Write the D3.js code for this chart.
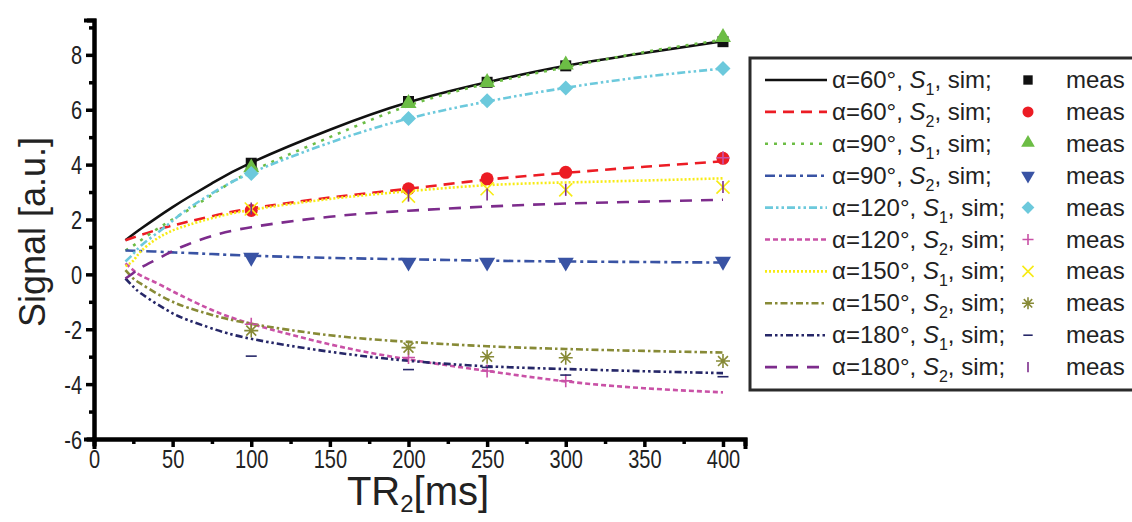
<!DOCTYPE html>
<html>
<head>
<meta charset="utf-8">
<script src="https://cdn.jsdelivr.net/npm/d3@7"></script>
<style>
  html, body { margin: 0; padding: 0; background: #fff; }
  svg { display: block; }
  .tick text { font-family: 'Liberation Sans', Arial, sans-serif; fill: #222; }
</style>
</head>
<body>
<svg id="chart" width="1132" height="522"></svg>
<script>
// Repetition time TR2 (ms) at which the simulated curves are sampled
const trSim = [20, 25, 30, 40, 50, 60, 75, 100, 150, 200, 250, 300, 350, 400];

// Simulated signal (a.u.)
const simA60S1  = [1.24, 1.46, 1.67, 2.07, 2.45, 2.81, 3.32, 4.07, 5.27, 6.27, 7.00, 7.60, 8.07, 8.50];
const simA60S2  = [1.24, 1.34, 1.44, 1.62, 1.78, 1.92, 2.12, 2.40, 2.80, 3.12, 3.45, 3.70, 3.92, 4.12];
const simA90S1  = [0.87, 1.05, 1.25, 1.65, 2.00, 2.35, 2.90, 3.75, 5.00, 6.15, 6.95, 7.55, 8.10, 8.55];
const simA90S2  = [0.87, 0.86, 0.85, 0.83, 0.80, 0.78, 0.74, 0.68, 0.60, 0.55, 0.50, 0.47, 0.45, 0.43];
const simA120S1 = [0.47, 0.75, 1.05, 1.50, 1.95, 2.40, 2.95, 3.70, 4.80, 5.68, 6.30, 6.80, 7.20, 7.50];
const simA120S2 = [0.40, 0.15, -0.05, -0.32, -0.62, -0.90, -1.30, -1.80, -2.55, -3.10, -3.52, -3.90, -4.15, -4.30];
const simA150S1 = [0.30, 0.50, 0.85, 1.30, 1.60, 1.80, 2.05, 2.35, 2.75, 3.03, 3.25, 3.35, 3.42, 3.50];
const simA150S2 = [0.15, -0.15, -0.35, -0.70, -1.00, -1.22, -1.48, -1.80, -2.22, -2.46, -2.62, -2.72, -2.79, -2.85];
const simA180S1 = [-0.15, -0.45, -0.70, -1.08, -1.42, -1.67, -1.97, -2.35, -2.82, -3.15, -3.35, -3.45, -3.53, -3.60];
const simA180S2 = [-0.15, 0.05, 0.25, 0.55, 0.85, 1.10, 1.40, 1.72, 2.10, 2.32, 2.47, 2.58, 2.65, 2.72];

// Measured points
const trMeas = [100, 200, 250, 300, 400];
const measA60S1  = [4.05, 6.30, 7.00, 7.60, 8.48];
const measA60S2  = [2.33, 3.12, 3.48, 3.72, 4.23];
const measA90S1  = [3.85, 6.20, 6.96, 7.60, 8.60];
const measA90S2  = [0.62, 0.44, 0.44, 0.44, 0.47];
const measA120S1 = [3.68, 5.68, 6.33, 6.79, 7.50];
const measA120S2 = [-1.82, -3.03, -3.52, -3.88, 4.25];
const measA150S1 = [2.38, 2.85, 3.12, 3.08, 3.18];
const measA150S2 = [-2.05, -2.67, -3.00, -3.04, -3.16];
const measA180S1 = [-2.98, -3.47, -3.39, -3.67, -3.73];
const measA180S2 = [2.40, 2.87, 2.91, 3.08, 3.18];

// Legend labels
const legendAlpha = [60, 60, 90, 90, 120, 120, 150, 150, 180, 180];
const legendS     = [1, 2, 1, 2, 1, 2, 1, 2, 1, 2];

// Axis ticks
const xMajorTicks = [0, 50, 100, 150, 200, 250, 300, 350, 400];
const xMinorTicks = [25, 75, 125, 175, 225, 275, 325, 375];
const yMajorTicks = [-6, -4, -2, 0, 2, 4, 6, 8];
const yMinorTicks = [-5, -3, -1, 1, 3, 5, 7, 9];

const simSeries  = [simA60S1, simA60S2, simA90S1, simA90S2, simA120S1, simA120S2, simA150S1, simA150S2, simA180S1, simA180S2];
const measSeries = [measA60S1, measA60S2, measA90S1, measA90S2, measA120S1, measA120S2, measA150S1, measA150S2, measA180S1, measA180S2];

// Per-series appearance
const seriesStyle = [
  { color: "#111111", dash: null,              marker: "square"   },
  { color: "#ec1c24", dash: "11,7",            marker: "circle"   },
  { color: "#6cbd45", dash: "3,6",             marker: "triangle" },
  { color: "#3953a4", dash: "10,4,3,4",        marker: "triDown"  },
  { color: "#6cc9dc", dash: "8,3,2.5,3,2.5,3", marker: "diamond"  },
  { color: "#c951a6", dash: "5,3",             marker: "plus"     },
  { color: "#f7eb14", dash: "2,2",             marker: "cross"    },
  { color: "#878a36", dash: "7,3,2.5,3",       marker: "star"     },
  { color: "#262768", dash: "7,3,2.5,3,2.5,3", marker: "hbar"     },
  { color: "#7d2c8c", dash: "12,9",            marker: "vbar"     }
];

const svg = d3.select("#chart");

const x = d3.scaleLinear().domain([0, 414]).range([94, 745]);
const y = d3.scaleLinear().domain([-6, 9.27]).range([439, 20]);

// Condensed look for the tick numbers
const narrow = 0.8;

function styleAxis(g) {
  g.select(".domain").attr("stroke", "#000").attr("stroke-width", 4).attr("stroke-linecap", "square");
  g.selectAll(".tick line").attr("stroke", "#000").attr("stroke-width", 3.5);
}

const xAxisG = svg.append("g").attr("transform", `translate(0,${y(-6)})`);
xAxisG.append("g")
  .call(d3.axisBottom(x).tickValues(xMinorTicks).tickSize(5).tickFormat(""))
  .call(styleAxis);
xAxisG.append("g")
  .call(d3.axisBottom(x).tickValues(xMajorTicks).tickSize(8).tickPadding(3).tickFormat(d => String(d)))
  .call(styleAxis)
  .call(g => g.selectAll(".tick text")
    .attr("font-size", 25)
    .attr("transform", `scale(${narrow},1)`));

const yAxisG = svg.append("g").attr("transform", `translate(${x(0)},0)`);
yAxisG.append("g")
  .call(d3.axisLeft(y).tickValues(yMinorTicks).tickSize(5).tickFormat(""))
  .call(styleAxis);
yAxisG.append("g")
  .call(d3.axisLeft(y).tickValues(yMajorTicks).tickSize(8).tickPadding(3).tickFormat(d => String(d)))
  .call(styleAxis)
  .call(g => g.selectAll(".tick text")
    .attr("font-size", 25)
    .attr("dy", "0.36em")
    .attr("x", -12 / narrow)
    .attr("transform", `scale(${narrow},1)`));

// Axis titles
svg.append("text")
  .attr("transform", `translate(45,232) rotate(-90)`)
  .attr("text-anchor", "middle")
  .attr("font-family", "'Liberation Sans', Arial, sans-serif")
  .attr("font-size", 36)
  .attr("fill", "#222")
  .text("Signal [a.u.]");

const xTitle = svg.append("text")
  .attr("x", 418).attr("y", 505)
  .attr("text-anchor", "middle")
  .attr("font-family", "'Liberation Sans', Arial, sans-serif")
  .attr("font-size", 40)
  .attr("fill", "#222");
xTitle.append("tspan").text("TR");
xTitle.append("tspan").attr("font-size", 24).attr("dy", 7).text("2");
xTitle.append("tspan").attr("dy", -7).text("[ms]");

// Marker paths centred on the origin
function markerPath(kind, s) {
  const h = s / 2;
  switch (kind) {
    case "square":   return d3.symbol(d3.symbolSquare, s * s)();
    case "circle":   return d3.symbol(d3.symbolCircle, Math.PI * h * h)();
    case "triangle": return d3.symbol(d3.symbolTriangle, s * s * 0.5)();
    case "triDown":  return d3.symbol(d3.symbolTriangle, s * s * 0.5)();
    case "diamond":  return `M0,${-h}L${h},0L0,${h}L${-h},0Z`;
    case "plus":     return `M${-h},0L${h},0M0,${-h}L0,${h}`;
    case "cross":    return `M${-h},${-h}L${h},${h}M${-h},${h}L${h},${-h}`;
    case "star": {
      let p = "";
      for (let k = 0; k < 4; k++) {
        const a = k * Math.PI / 4;
        p += `M${-h * Math.sin(a)},${-h * Math.cos(a)}L${h * Math.sin(a)},${h * Math.cos(a)}`;
      }
      return p;
    }
    case "hbar":     return `M${-h},0L${h},0`;
    case "vbar":     return `M0,${-h}L0,${h}`;
  }
}
const filledMarkers = new Set(["square", "circle", "triangle", "triDown", "diamond"]);
const markerSize = { square: 11, circle: 13, triangle: 15, triDown: 15, diamond: 15, plus: 13, cross: 13, star: 14, hbar: 11, vbar: 12 };

function drawMarker(g, kind, color, cx, cy, scaleF) {
  const s = markerSize[kind] * scaleF;
  const p = g.append("path")
    .attr("d", markerPath(kind, s))
    .attr("transform", `translate(${cx},${cy})` + (kind === "triDown" ? " rotate(180)" : "") + (kind === "triangle" ? " translate(0,-1)" : ""));
  if (filledMarkers.has(kind)) {
    p.attr("fill", color).attr("stroke", "none");
  } else {
    p.attr("fill", "none").attr("stroke", color).attr("stroke-width", 1.6);
  }
}

// Simulated curves
const line = d3.line()
  .x((d, i) => x(trSim[i]))
  .y(d => y(d))
  .curve(d3.curveNatural);

const curvesG = svg.append("g");
simSeries.forEach((vals, i) => {
  const st = seriesStyle[i];
  curvesG.append("path")
    .attr("d", line(vals))
    .attr("fill", "none")
    .attr("stroke", st.color)
    .attr("stroke-width", 2.6)
    .attr("stroke-dasharray", st.dash);
});

// Measured markers
const measG = svg.append("g");
measSeries.forEach((vals, i) => {
  const st = seriesStyle[i];
  vals.forEach((v, j) => drawMarker(measG, st.marker, st.color, x(trMeas[j]), y(v), 1));
});

// Legend
const legX = 750, legY = 58, rowH = 31.9;
const legend = svg.append("g");
legend.append("rect")
  .attr("x", legX).attr("y", legY)
  .attr("width", 400).attr("height", 332)
  .attr("fill", "#fff")
  .attr("stroke", "#2b2b2b").attr("stroke-width", 3);

seriesStyle.forEach((st, i) => {
  const cy = 80 + i * rowH;
  legend.append("line")
    .attr("x1", 765).attr("x2", 827).attr("y1", cy).attr("y2", cy)
    .attr("stroke", st.color).attr("stroke-width", 2.6)
    .attr("stroke-dasharray", st.dash);

  const t = legend.append("text")
    .attr("x", 832).attr("y", cy + 8)
    .attr("font-family", "'Liberation Sans', Arial, sans-serif")
    .attr("font-size", 24)
    .attr("fill", "#222");
  t.append("tspan").text(`α=${legendAlpha[i]}°, `);
  t.append("tspan").attr("font-style", "italic").text("S");
  t.append("tspan").attr("font-size", 16).attr("dy", 7).text(legendS[i]);
  t.append("tspan").attr("dy", -7).text(", sim;");

  drawMarker(legend, st.marker, st.color, 1028, cy, 0.85);

  legend.append("text")
    .attr("x", 1066).attr("y", cy + 8)
    .attr("font-family", "'Liberation Sans', Arial, sans-serif")
    .attr("font-size", 24)
    .attr("fill", "#222")
    .text("meas");
});
</script>
</body>
</html>
